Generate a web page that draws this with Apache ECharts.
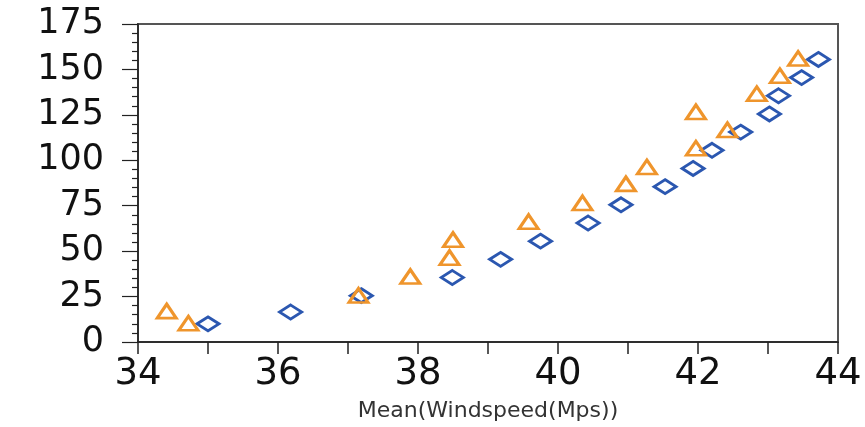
<!DOCTYPE html>
<html>
<head>
<meta charset="utf-8">
<script src="https://cdn.jsdelivr.net/npm/echarts@6/dist/echarts.min.js"></script>
<style>html,body{margin:0;padding:0;background:#fff;}#c{width:865px;height:427px;}</style>
</head>
<body>
<div id="c"></div>
<script>
const diamondX = [35.0, 36.18, 37.19, 38.49, 39.18, 39.75, 40.43, 40.9, 41.53, 41.93, 42.2, 42.61, 43.02, 43.15, 43.48, 43.72];
const diamondY = [10, 16.5, 25.5, 35.5, 45.5, 55.5, 65.5, 75.5, 85.5, 95.5, 105.5, 115.5, 125.5, 135.5, 145.5, 155.5];
const triangleX = [34.41, 34.72, 37.15, 37.89, 38.45, 38.5, 39.58, 40.35, 40.97, 41.27, 41.97, 41.97, 42.42, 42.84, 43.17, 43.43];
const triangleY = [17, 10.3, 25.6, 36, 46.4, 56.3, 66.2, 76.5, 87, 96.3, 106.6, 126.6, 116.7, 136.6, 146.5, 156];
const xTicks = [34, 36, 38, 40, 42, 44];
const yTicks = [0, 25, 50, 75, 100, 125, 150, 175];
const xTitle = 'Mean(Windspeed(Mps))';

const pair = (xs, ys) => xs.map((x, i) => [x, ys[i]]);
const chart = echarts.init(document.getElementById('c'), null, {renderer: 'canvas'});
chart.setOption({
  animation: false,
  backgroundColor: '#fff',
  grid: {left: 138, right: 27, top: 24, bottom: 79, show: true, borderColor: '#555', borderWidth: 2, backgroundColor: 'transparent'},
  xAxis: {
    type: 'value', min: xTicks[0], max: xTicks[xTicks.length - 1], interval: 2,
    name: xTitle, nameLocation: 'middle', nameGap: 58,
    nameTextStyle: {fontFamily: 'DejaVu Sans', fontSize: 22, color: '#333'},
    axisLine: {show: true, lineStyle: {color: '#222', width: 1.5}},
    axisTick: {show: true, length: 12, lineStyle: {color: '#222', width: 1.5}},
    minorTick: {show: true, splitNumber: 2, length: 12, lineStyle: {color: '#222', width: 1.5}},
    axisLabel: {fontFamily: 'DejaVu Sans', fontSize: 37, color: '#111', margin: 14},
    splitLine: {show: false}
  },
  yAxis: {
    type: 'value', min: yTicks[0], max: yTicks[yTicks.length - 1], interval: 25,
    axisLine: {show: true, lineStyle: {color: '#222', width: 1.5}},
    axisTick: {show: true, length: 16, lineStyle: {color: '#222', width: 1.2}},
    minorTick: {show: true, splitNumber: 5, length: 6, lineStyle: {color: '#222', width: 1.2}},
    axisLabel: {fontFamily: 'DejaVu Sans', fontSize: 35, color: '#111', margin: 34},
    splitLine: {show: false}
  },
  series: [
    {
      type: 'scatter', data: pair(diamondX, diamondY), symbol: 'diamond', symbolSize: [22, 14],
      itemStyle: {color: '#fff', borderColor: '#2b57b0', borderWidth: 3, opacity: 1}, z: 2
    },
    {
      type: 'scatter', data: pair(triangleX, triangleY), symbol: 'triangle', symbolSize: [19, 14],
      itemStyle: {color: 'rgba(255,255,255,0)', borderColor: '#ef952c', borderWidth: 3, opacity: 1}, z: 3
    }
  ]
});
</script>
</body>
</html>
